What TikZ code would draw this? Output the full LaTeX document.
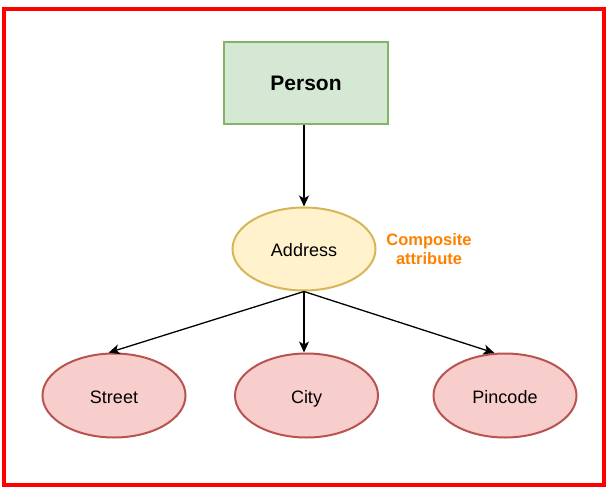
\documentclass[tikz,border=0pt]{standalone}
\usepackage{fontspec}
\setmainfont{Liberation Sans}
\usetikzlibrary{shapes.geometric,arrows.meta}
\definecolor{gfill}{HTML}{D5E8D4}
\definecolor{gline}{HTML}{82B366}
\definecolor{yfill}{HTML}{FFF2CC}
\definecolor{yline}{HTML}{D6B656}
\definecolor{rfill}{HTML}{F8CECC}
\definecolor{rline}{HTML}{B85450}
\definecolor{borderred}{HTML}{FF0000}
\definecolor{orangetxt}{HTML}{FF8000}
\tikzset{
  entitybox/.style={draw=gline, fill=gfill, line width=2bp, minimum width=164bp, minimum height=82bp, inner sep=0pt,
    font=\fontsize{21bp}{25bp}\selectfont\bfseries},
  compattr/.style={ellipse, draw=yline, fill=yfill, line width=2bp, minimum width=143bp, minimum height=83bp, inner sep=0pt,
    text height=15bp, text depth=0bp, font=\fontsize{18bp}{22bp}\selectfont},
  simpleattr/.style={ellipse, draw=rline, fill=rfill, line width=2bp, minimum width=143bp, minimum height=84bp, inner sep=0pt,
    text height=15.5bp, text depth=0bp, font=\fontsize{18bp}{22bp}\selectfont},
  conn/.style={draw=black, line width=1.3bp, -{Stealth[length=11bp,width=10bp,inset=3bp]}},
  note/.style={text=orangetxt, align=center, font=\fontsize{16.5bp}{19.5bp}\selectfont\bfseries}
}
\begin{document}
\begin{tikzpicture}[x=1bp,y=-1bp]
\useasboundingbox (0,0) rectangle (608,491);
\draw[borderred, line width=4.2bp] (4.3,8.7) rectangle (603.8,485.3);
\node[entitybox] (person) at (306,83) {Person};
\node[compattr] (addr) at (304,249) {Address};
\node[note] (comp) at (429,249) {Composite\\attribute};
\node[simpleattr] (street) at (114,395.5) {Street};
\node[simpleattr] (city) at (306.5,395.5) {City};
\node[simpleattr] (pin) at (505,395.5) {Pincode};
\draw[conn] (person.south -| addr.north) -- (addr.north);
\draw[conn] (addr.south) -- (street.97);
\draw[conn] (addr.south) -- (addr.south |- city.north);
\draw[conn] (addr.south) -- (pin.104);
\end{tikzpicture}
\end{document}
